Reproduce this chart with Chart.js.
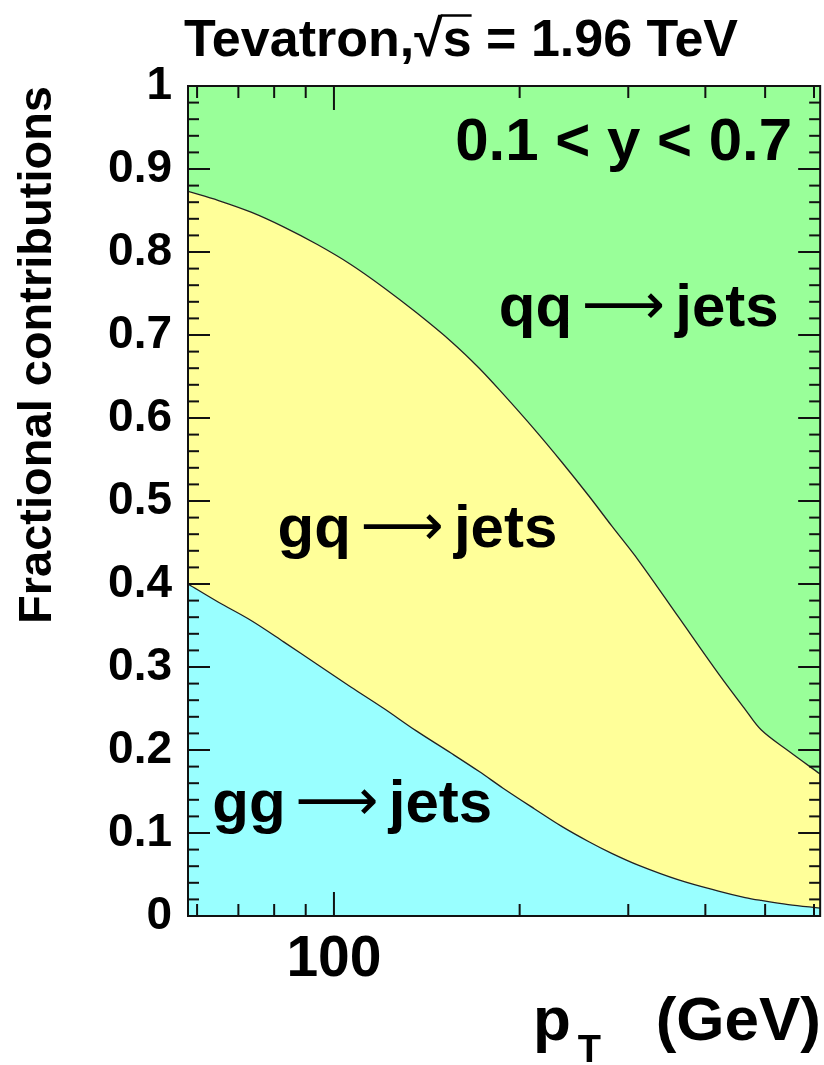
<!DOCTYPE html>
<html>
<head>
<meta charset="utf-8">
<script src="https://cdn.jsdelivr.net/npm/chart.js@4.4.1/dist/chart.umd.min.js"></script>
<style>
html,body{margin:0;padding:0;background:#fff;}
#wrap{width:824px;height:1065px;position:relative;}
</style>
</head>
<body>
<div id="wrap"><canvas id="c" width="824" height="1065"></canvas></div>
<script>
// ---- data ----
const ptGeV = [58, 65, 73.4, 83, 94, 106.5, 120.5, 136, 155, 172, 188, 211.5, 234, 259, 282, 312, 362, 420, 464, 493, 545, 614];
// cumulative boundary: gg contribution
const ggBoundary = [0.400, 0.378, 0.356, 0.330, 0.303, 0.276, 0.250, 0.223, 0.196, 0.174, 0.154, 0.129, 0.108, 0.0895, 0.0755, 0.061, 0.0435, 0.030, 0.0222, 0.0187, 0.0138, 0.0096];
// cumulative boundary: gg + gq contribution
const ggGqBoundary = [0.873, 0.862, 0.848, 0.830, 0.809, 0.785, 0.757, 0.727, 0.692, 0.660, 0.629, 0.586, 0.547, 0.506, 0.470, 0.428, 0.360, 0.292, 0.249, 0.224, 0.199, 0.171];
const xTickValues = [60, 70, 80, 90, 100, 200, 300, 400, 500, 600];
const xMajorTicks = [100];
const xLabelledTicks = ['100'];
const yTickLabels = ['0', '0.1', '0.2', '0.3', '0.4', '0.5', '0.6', '0.7', '0.8', '0.9', '1'];
const seriesNames = ['gg \u2192 jets', 'gq \u2192 jets', 'qq \u2192 jets'];
const titleText = 'Tevatron,\u221As = 1.96 TeV';
const rangeText = '0.1 < y < 0.7';

// region labels (placed in data coordinates)
const regionLabels = [
  { parts: ['qq', '\u27F6', 'jets'], pt: 185, frac: 0.711 },
  { parts: ['gq', '\u27F6', 'jets'], pt: 81,  frac: 0.445 },
  { parts: ['gg', '\u27F6', 'jets'], pt: 63.5, frac: 0.113 }
];

const FONT = '"Liberation Sans", Arial, Helvetica, sans-serif';
const toPts = (ys) => ptGeV.map((x, i) => ({ x: x, y: ys[i] }));

const decorations = {
  id: 'decorations',
  afterDatasetsDraw(chart) {
    const { ctx, chartArea: a, scales: { x, y } } = chart;
    ctx.save();
    ctx.strokeStyle = '#111';
    ctx.lineWidth = 2;
    const seg = (x1, y1, x2, y2) => { ctx.beginPath(); ctx.moveTo(x1, y1); ctx.lineTo(x2, y2); ctx.stroke(); };
    // x ticks (inside, bottom and top)
    x.ticks.forEach(t => {
      const px = x.getPixelForValue(t.value);
      const L = xMajorTicks.includes(t.value) ? 24 : 12;
      seg(px, a.bottom, px, a.bottom - L);
      seg(px, a.top, px, a.top + L);
    });
    // y ticks: majors from axis ticks, 4 minors between
    const yt = y.ticks.map(t => t.value);
    for (let i = 0; i < yt.length; i++) {
      const py = y.getPixelForValue(yt[i]);
      seg(a.left, py, a.left + 22, py);
      seg(a.right, py, a.right - 22, py);
      if (i < yt.length - 1) {
        for (let k = 1; k < 5; k++) {
          const v = yt[i] + (yt[i + 1] - yt[i]) * k / 5;
          const q = y.getPixelForValue(v);
          seg(a.left, q, a.left + 11, q);
          seg(a.right, q, a.right - 11, q);
        }
      }
    }
    // frame
    ctx.lineWidth = 2;
    ctx.strokeRect(a.left, a.top, a.right - a.left, a.bottom - a.top);

    // region labels
    ctx.fillStyle = '#000';
    ctx.textBaseline = 'alphabetic';
    ctx.textAlign = 'left';
    regionLabels.forEach(l => {
      let px = x.getPixelForValue(l.pt);
      const py = y.getPixelForValue(l.frac);
      ctx.font = 'bold 60px ' + FONT;
      ctx.fillText(l.parts[0], px, py);
      px += ctx.measureText(l.parts[0]).width + 10;
      ctx.font = '58px "DejaVu Sans", sans-serif';
      ctx.fillText(l.parts[1], px, py - 2);
      px += ctx.measureText(l.parts[1]).width + 10;
      ctx.font = 'bold 60px ' + FONT;
      ctx.fillText(l.parts[2], px, py);
    });
    // kinematic range label
    ctx.font = 'bold 60px ' + FONT;
    ctx.textAlign = 'right';
    ctx.fillText(rangeText, x.getPixelForValue(553), y.getPixelForValue(0.911));
    ctx.restore();
  },
  afterDraw(chart) {
    const { ctx } = chart;
    ctx.save();
    ctx.fillStyle = '#000';
    ctx.strokeStyle = '#000';
    // main title with overline on s
    ctx.font = 'bold 52px ' + FONT;
    ctx.textBaseline = 'alphabetic';
    ctx.textAlign = 'left';
    const w = ctx.measureText(titleText).width;
    const x0 = 461 - w / 2, yb = 56;
    ctx.fillText(titleText, x0, yb);
    const pre = titleText.slice(0, titleText.indexOf('\u221A') + 1);
    const wPre = ctx.measureText(pre).width;
    const wS = ctx.measureText('s').width;
    const asc = ctx.measureText('\u221A').actualBoundingBoxAscent;
    ctx.lineWidth = 2.5;
    ctx.beginPath();
    ctx.moveTo(x0 + wPre - 2, yb - asc + 1.5);
    ctx.lineTo(x0 + wPre + wS, yb - asc + 1.5);
    ctx.stroke();

    // x-axis title: p_T (GeV), right aligned
    const base = 1040;
    ctx.font = 'bold 62px ' + FONT;
    ctx.textAlign = 'right';
    ctx.fillText('(GeV)', 821, base);
    ctx.textAlign = 'left';
    ctx.fillText('p', 533, base);
    const wp = ctx.measureText('p').width;
    ctx.font = 'bold 38px ' + FONT;
    ctx.fillText('T', 533 + wp + 7, base + 22);
    ctx.restore();
  }
};

new Chart(document.getElementById('c'), {
  type: 'line',
  data: {
    datasets: [
      { label: seriesNames[0], data: toPts(ggBoundary), fill: 'origin', backgroundColor: '#99ffff',
        borderColor: '#222', borderWidth: 1.3, pointRadius: 0, tension: 0.35 },
      { label: seriesNames[1], data: toPts(ggGqBoundary), fill: '-1', backgroundColor: '#ffff99',
        borderColor: '#222', borderWidth: 1.3, pointRadius: 0, tension: 0.35 },
      { label: seriesNames[2], data: toPts(ggGqBoundary), fill: 'end', backgroundColor: '#99ff99',
        borderColor: 'rgba(0,0,0,0)', borderWidth: 0, pointRadius: 0, tension: 0.35 }
    ]
  },
  options: {
    responsive: false,
    animation: false,
    devicePixelRatio: 1,
    layout: { padding: { top: 86, right: 2, left: 0, bottom: 0 } },
    plugins: { legend: { display: false }, tooltip: { enabled: false }, title: { display: false } },
    scales: {
      x: {
        type: 'logarithmic',
        min: 58, max: 614,
        afterBuildTicks: s => { s.ticks = xTickValues.map(v => ({ value: v })); },
        afterFit: s => { s.height = 149; },
        grid: { display: false, drawTicks: false },
        border: { display: false },
        ticks: {
          autoSkip: false, maxRotation: 0, padding: 10, color: '#000',
          font: { family: FONT, weight: 'bold', size: 57 },
          callback: (v) => { const i = xMajorTicks.indexOf(v); return i >= 0 ? xLabelledTicks[i] : ''; }
        }
      },
      y: {
        min: 0, max: 1,
        afterFit: s => { s.width = 188; },
        grid: { display: false, drawTicks: false },
        border: { display: false },
        ticks: {
          stepSize: 0.1, autoSkip: false, padding: 16, color: '#000',
          font: { family: FONT, weight: 'bold', size: 46 },
          callback: (v) => yTickLabels[Math.round(v * 10)]
        },
        title: {
          display: true, text: 'Fractional contributions', align: 'end', color: '#000',
          font: { family: FONT, weight: 'bold', size: 47 }, padding: { top: 10, bottom: 0 }
        }
      }
    }
  },
  plugins: [decorations]
});
</script>
</body>
</html>
